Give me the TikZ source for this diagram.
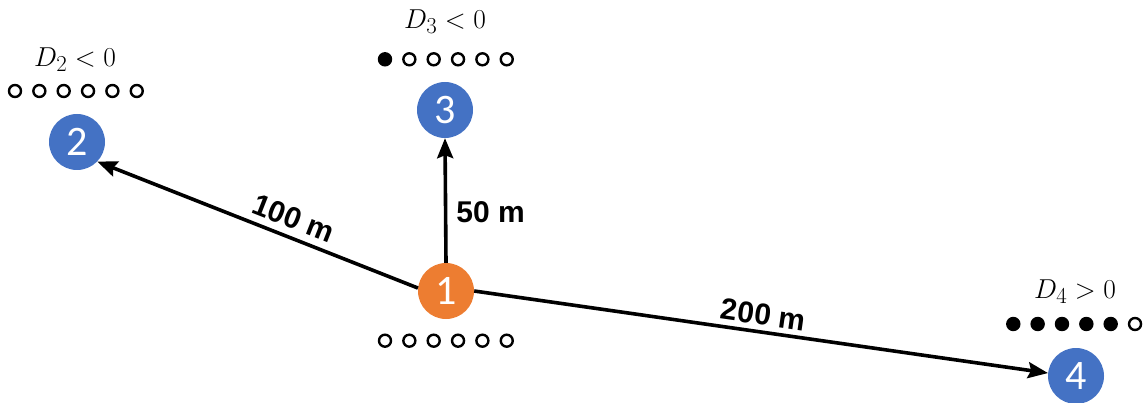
\documentclass[tikz,border=0pt]{standalone}
\usepackage{fontspec}
\setmainfont{Liberation Sans}
\newfontfamily\numfont{Carlito}
\usetikzlibrary{arrows.meta}
\definecolor{siteblue}{HTML}{4472C4}
\definecolor{siteorange}{HTML}{ED7D31}
\newcommand{\condtext}[1]{\scalebox{1.1}{$#1$}}

\begin{document}
\begin{tikzpicture}[x=1pt,y=-1pt,
  site/.style={circle, minimum size=56pt, inner sep=0pt, text=white,
    font=\numfont\fontsize{42}{42}\selectfont},
  link/.style={line width=3.6pt, -{Stealth[length=20pt,width=16pt,inset=3pt]}},
  dist/.style={font=\bfseries\fontsize{30}{30}\selectfont, inner sep=3pt},
  cond/.style={anchor=base, font=\fontsize{24.88}{30}\selectfont, inner sep=0pt},
  odot/.style={circle, draw, line width=2.4pt, minimum size=12pt, inner sep=0pt},
  fdot/.style={odot, fill=black}
]
\useasboundingbox (0,0) rectangle (1148,403);

% sites
\node[site, fill=siteorange] (n1) at (446,291) {1};
\node[site, fill=siteblue]   (n2) at (77,142)  {2};
\node[site, fill=siteblue]   (n3) at (445,110) {3};
\node[site, fill=siteblue]   (n4) at (1076,376) {4};

% links with distances
\draw[link] (n1.174) -- (n2.-44)
  node[dist, sloped, above=4pt, pos=0.41] {100 m};
\draw[link] (n1.north) -- (n3.south)
  node[dist, right=6pt, pos=0.41] {50 m};
\draw[link] (n1.0) -- (n4.174)
  node[dist, sloped, above=2pt, pos=0.5] {200 m};

% conditions
\node[cond] (c2) at (75,66.7)    {\condtext{D_2<0}};
\node[cond] (c3) at (445,28.3)   {\condtext{D_3<0}};
\node[cond] (c4) at (1075,298.3) {\condtext{D_4>0}};

% state rows
\foreach \k in {0,...,5}
  \node[odot] (r1-\k) at ({385+24.35*\k},340.7) {};
\foreach \k in {0,...,5}
  \node[odot] (r2-\k) at ({15+24.35*\k},91) {};
\foreach \k/\s in {0/fdot,1/odot,2/odot,3/odot,4/odot,5/odot}
  \node[\s] (r3-\k) at ({385+24.35*\k},59.3) {};
\foreach \k/\s in {0/fdot,1/fdot,2/fdot,3/fdot,4/fdot,5/odot}
  \node[\s] (r4-\k) at ({1013.3+24.35*\k},324) {};
\end{tikzpicture}
\end{document}
